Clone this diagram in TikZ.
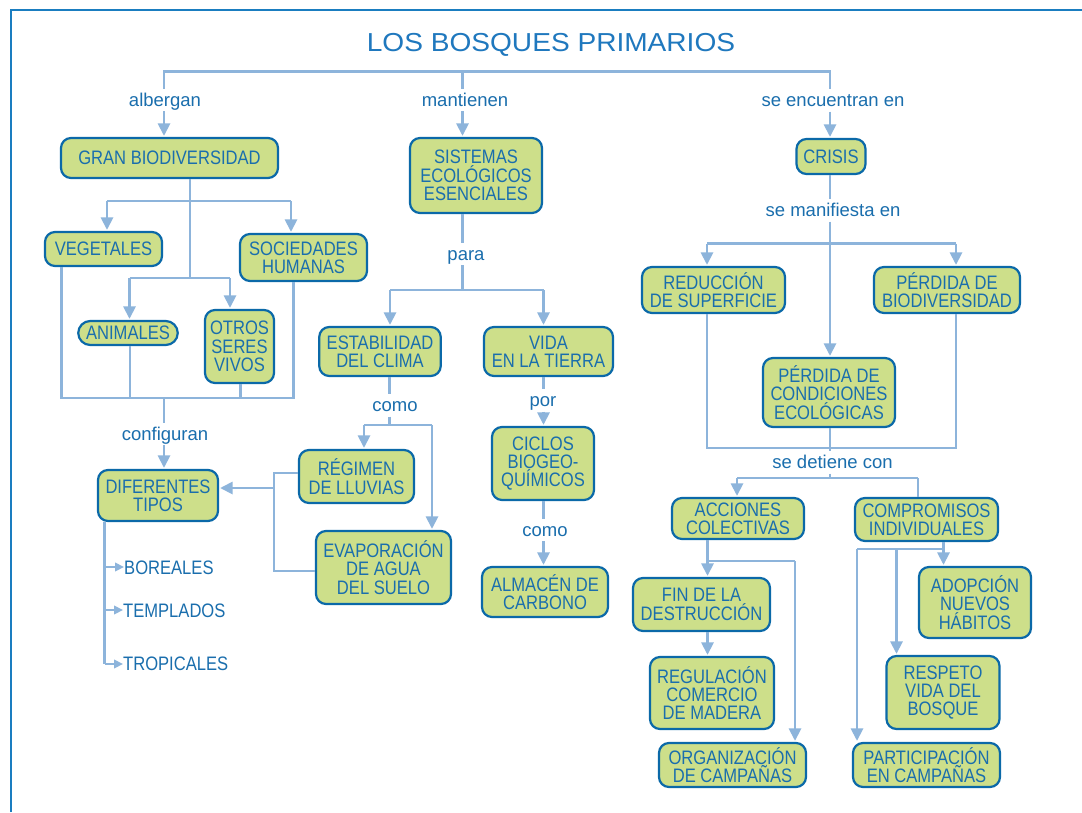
\documentclass[tikz,border=0pt]{standalone}
\usepackage{fontspec}
\setmainfont{Liberation Sans}
\newfontfamily\nodefont[FakeStretch=0.85]{Liberation Sans}
\newfontfamily\titlefont[FakeStretch=1.08]{Liberation Sans}
\usetikzlibrary{arrows.meta}
\definecolor{txt}{HTML}{1A6EAD}
\definecolor{bord}{HTML}{0B69A8}
\definecolor{boxfill}{HTML}{CDDF8A}
\definecolor{conncol}{HTML}{8DB4DB}
\definecolor{framecol}{HTML}{1A7DC0}
\definecolor{titlecol}{HTML}{1F78BE}
\tikzset{
  box/.style={draw=bord, fill=boxfill, line width=2.2pt, rounded corners=10pt, text=txt,
    font=\nodefont\fontsize{19.5}{18.3}\selectfont, align=center, inner sep=0pt},
  lbl/.style={text=txt, font=\fontsize{18.5}{20}\selectfont, inner xsep=2pt, inner ysep=4pt,
    text height=13pt, text depth=1pt, anchor=base},
  item/.style={text=txt, font=\nodefont\fontsize{19.5}{18.3}\selectfont, inner sep=0pt, anchor=base west},
  line/.style={draw=conncol, line width=2.8pt},
  arr/.style={line, -{Triangle[length=12.5pt,width=12pt]}, shorten >=1pt},
  smallarr/.style={line, -{Triangle[length=9pt,width=8.5pt]}},
}
\begin{document}
\lineskiplimit=-20pt
\begin{tikzpicture}[x=1pt,y=-1pt]
\useasboundingbox (0,0) rectangle (1082,812);
\fill[white] (0,0) rectangle (1082,812);
\draw[framecol, line width=1.5pt] (11,812) -- (11,10) -- (1082,10);

% title
\node[text=titlecol, font=\titlefont\fontsize{26}{28}\selectfont, inner sep=0pt] (title) at (551,45) {LOS BOSQUES PRIMARIOS};

% boxes
\node[box, minimum width=217pt, minimum height=40pt] (gran) at (169.5,158) {GRAN BIODIVERSIDAD};
\node[box, minimum width=132pt, minimum height=75pt] (sist) at (476,175.5) {SISTEMAS\\ECOLÓGICOS\\ESENCIALES};
\node[box, minimum width=69pt, minimum height=35pt] (crisis) at (831,156.5) {CRISIS};
\node[box, minimum width=117pt, minimum height=34pt] (veg) at (103.5,249) {VEGETALES};
\node[box, minimum width=127pt, minimum height=47pt] (soc) at (303.5,257.5) {SOCIEDADES\\HUMANAS};
\node[box, minimum width=99.5pt, minimum height=24pt, rounded corners=12pt] (anim) at (128,333) {ANIMALES};
\node[box, minimum width=69pt, minimum height=73pt] (otros) at (239.5,346.5) {OTROS\\SERES\\VIVOS};
\node[box, minimum width=121.5pt, minimum height=49pt] (estab) at (380,351.5) {ESTABILIDAD\\DEL CLIMA};
\node[box, minimum width=129pt, minimum height=49pt] (vida) at (548.5,351.5) {VIDA\\EN LA TIERRA};
\node[box, minimum width=102pt, minimum height=73pt] (ciclos) at (543,463.5) {CICLOS\\BIOGEO-\\QUÍMICOS};
\node[box, minimum width=115pt, minimum height=53pt] (regimen) at (356.5,476.5) {RÉGIMEN\\DE LLUVIAS};
\node[box, minimum width=135pt, minimum height=73pt] (evap) at (383.5,567.5) {EVAPORACIÓN\\DE AGUA\\DEL SUELO};
\node[box, minimum width=126pt, minimum height=50pt] (almacen) at (545,592) {ALMACÉN DE\\CARBONO};
\node[box, minimum width=120pt, minimum height=51pt] (dif) at (158,495.5) {DIFERENTES\\TIPOS};
\node[box, minimum width=143pt, minimum height=46pt] (reduc) at (713.5,290) {REDUCCIÓN\\DE SUPERFICIE};
\node[box, minimum width=146pt, minimum height=46pt] (pbio) at (947,290) {PÉRDIDA DE\\BIODIVERSIDAD};
\node[box, minimum width=132pt, minimum height=69pt] (pcond) at (829,392.5) {PÉRDIDA DE\\CONDICIONES\\ECOLÓGICAS};
\node[box, minimum width=132pt, minimum height=41pt] (acc) at (738,518.5) {ACCIONES\\COLECTIVAS};
\node[box, minimum width=143pt, minimum height=43pt] (comp) at (926.5,519.5) {COMPROMISOS\\INDIVIDUALES};
\node[box, minimum width=137pt, minimum height=53pt] (fin) at (701.5,604.5) {FIN DE LA\\DESTRUCCIÓN};
\node[box, minimum width=124pt, minimum height=72pt] (regul) at (712,693) {REGULACIÓN\\COMERCIO\\DE MADERA};
\node[box, minimum width=147pt, minimum height=44pt] (org) at (732.5,765) {ORGANIZACIÓN\\DE CAMPAÑAS};
\node[box, minimum width=112pt, minimum height=71pt] (adop) at (975,602.5) {ADOPCIÓN\\NUEVOS\\HÁBITOS};
\node[box, minimum width=113pt, minimum height=73pt] (resp) at (943,692.5) {RESPETO\\VIDA DEL\\BOSQUE};
\node[box, minimum width=147pt, minimum height=44pt] (part) at (926.5,765) {PARTICIPACIÓN\\EN CAMPAÑAS};

% list items
\node[item] (bor) at (124,574) {BOREALES};
\node[item] (tem) at (123,617) {TEMPLADOS};
\node[item] (tro) at (123,670) {TROPICALES};

% labels
\node[lbl] (alb) at (165,106) {albergan};
\node[lbl] (mant) at (465,106) {mantienen};
\node[lbl] (enc) at (833,106.5) {se encuentran en};
\node[lbl] (manif) at (833,216.5) {se manifiesta en};
\node[lbl] (para) at (466,260) {para};
\node[lbl] (conf) at (165,440) {configuran};
\node[lbl] (como1) at (395,411.5) {como};
\node[lbl] (por) at (543,406.5) {por};
\node[lbl] (como2) at (545,536) {como};
\node[lbl] (det) at (832.5,468.5) {se detiene con};

% junction coordinates
\coordinate (t1) at (164,71.5);
\coordinate (t2) at (462.5,71.5);
\coordinate (t3) at (830,71.5);
\coordinate (g0) at (190,201);
\coordinate (gl) at (107,201);
\coordinate (gr) at (291,201);
\coordinate (h0) at (190,278);
\coordinate (hl) at (129.5,278);
\coordinate (hr) at (230,278);
\coordinate (e1) at (61.5,398);
\coordinate (e2) at (293.5,398);
\coordinate (e3) at (130,398);
\coordinate (e4) at (240.5,398);
\coordinate (e5) at (164,398);
\coordinate (l0) at (104.5,664);
\coordinate (l1) at (104.5,567);
\coordinate (l2) at (104.5,610);
\coordinate (r1) at (274,473);
\coordinate (r2) at (274,571);
\coordinate (r3) at (274,488);
\coordinate (p0) at (462.5,290);
\coordinate (pl) at (390,290);
\coordinate (pr) at (543.5,290);
\coordinate (c0) at (389.5,425);
\coordinate (cl) at (364,425);
\coordinate (cr) at (432,425);
\coordinate (v0) at (543.5,376);
\coordinate (m0) at (830,243.5);
\coordinate (ml) at (707,243.5);
\coordinate (mr) at (956,243.5);
\coordinate (n1) at (707,448);
\coordinate (n2) at (956,448);
\coordinate (n0) at (830,448);
\coordinate (d0) at (830,478);
\coordinate (dl) at (737,478);
\coordinate (dr) at (918,478);
\coordinate (a0) at (707.5,561);
\coordinate (a1) at (795,561);
\coordinate (k0) at (943.5,549);
\coordinate (kl) at (857,549);
\coordinate (km) at (896.5,549);

% top bracket
\draw[line] (t1 |- alb.north) -- (t1) -- (t3) -- (t3 |- enc.north);
\draw[line] (t2) -- (t2 |- mant.north);
\draw[arr] (t1 |- alb.south) -- (t1 |- gran.north);
\draw[arr] (t2 |- mant.south) -- (t2 |- sist.north);
\draw[arr] (t3 |- enc.south) -- (t3 |- crisis.north);

% gran biodiversidad
\draw[line] (g0 |- gran.south) -- (h0);
\draw[line] (gl) -- (gr);
\draw[arr] (gl) -- (gl |- veg.north);
\draw[arr] (gr) -- (gr |- soc.north);
\draw[line] (hl) -- (hr);
\draw[arr] (hl) -- (hl |- anim.north);
\draw[arr] (hr) -- (hr |- otros.north);
\draw[line] (e1 |- veg.south) -- (e1) -- (e2) -- (e2 |- soc.south);
\draw[line] (e3 |- anim.south) -- (e3);
\draw[line] (e4 |- otros.south) -- (e4);
\draw[line] (e5) -- (e5 |- conf.north);
\draw[arr] (e5 |- conf.south) -- (e5 |- dif.north);

% diferentes tipos list
\draw[line] (l0 |- dif.south) -- (l0);
\draw[smallarr] (l1) -- (l1 -| bor.west);
\draw[smallarr] (l2) -- (l2 -| tem.west);
\draw[smallarr] (l0) -- (l0 -| tro.west);

% regimen / evaporacion to diferentes
\draw[line] (r1 -| regimen.west) -- (r1) -- (r2) -- (r2 -| evap.west);
\draw[arr] (r3) -- (r3 -| dif.east);

% sistemas
\draw[line] (t2 |- sist.south) -- (t2 |- para.north);
\draw[line] (p0 |- para.south) -- (p0);
\draw[line] (pl) -- (pr);
\draw[arr] (pl) -- (pl |- estab.north);
\draw[arr] (pr) -- (pr |- vida.north);

% estabilidad
\draw[line] (c0 |- estab.south) -- (c0 |- como1.north);
\draw[line] (c0 |- como1.south) -- (c0);
\draw[line] (cl) -- (cr);
\draw[arr] (cl) -- (cl |- regimen.north);
\draw[arr] (cr) -- (cr |- evap.north);

% vida
\draw[line] (v0 |- vida.south) -- (v0 |- por.north);
\draw[arr] (v0 |- por.south) -- (v0 |- ciclos.north);
\draw[line] (v0 |- ciclos.south) -- (v0 |- como2.north);
\draw[arr] (v0 |- como2.south) -- (v0 |- almacen.north);

% crisis
\draw[line] (m0 |- crisis.south) -- (m0 |- manif.north);
\draw[line] (m0 |- manif.south) -- (m0);
\draw[line] (ml) -- (mr);
\draw[arr] (ml) -- (ml |- reduc.north);
\draw[arr] (mr) -- (mr |- pbio.north);
\draw[arr] (m0) -- (m0 |- pcond.north);
\draw[line] (n1 |- reduc.south) -- (n1) -- (n2) -- (n2 |- pbio.south);
\draw[line] (n0 |- pcond.south) -- (n0 |- det.north);
\draw[line] (n0 |- det.south) -- (d0);
\draw[line] (dl) -- (dr);
\draw[arr] (dl) -- (dl |- acc.north);
\draw[line] (dr) -- (dr |- comp.north);

% acciones colectivas
\draw[arr] (a0 |- acc.south) -- (a0 |- fin.north);
\draw[line] (a0) -- (a1);
\draw[arr] (a1) -- (a1 |- org.north);
\draw[arr] (a0 |- fin.south) -- (a0 |- regul.north);

% compromisos individuales
\draw[arr] (k0 |- comp.south) -- (k0 |- adop.north);
\draw[line] (k0) -- (kl);
\draw[arr] (kl) -- (kl |- part.north);
\draw[arr] (km) -- (km |- resp.north);
\end{tikzpicture}
\end{document}
